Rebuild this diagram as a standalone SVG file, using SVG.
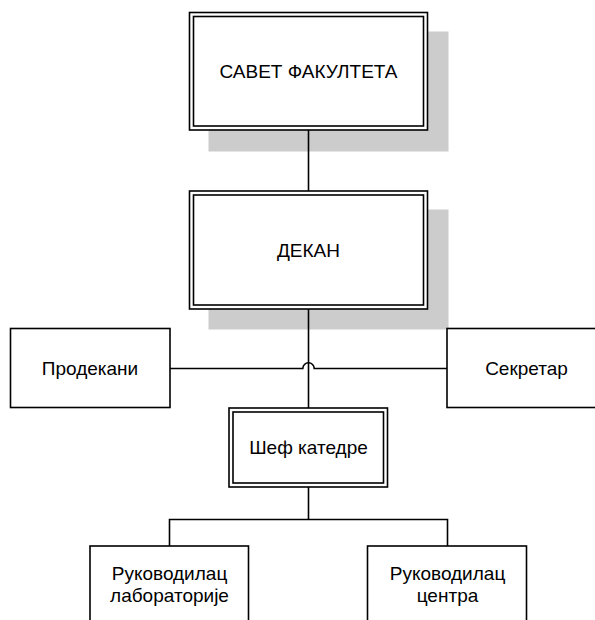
<svg xmlns="http://www.w3.org/2000/svg" width="595" height="620" viewBox="0 0 595 620">
<style>
.shadow{fill:#cccccc;stroke:none}
.box{fill:#ffffff;stroke:#000000;stroke-width:1.6}
.inner{fill:none;stroke:#000000;stroke-width:1.6}
.conn{fill:none;stroke:#000000;stroke-width:1.6}
text{font-family:"Liberation Sans",Arial,sans-serif;font-size:19px;fill:#000000;text-anchor:middle}
</style>
<rect width="595" height="620" fill="#ffffff"/>
<g id="shadows">
<rect class="shadow" x="208.5" y="31.5" width="240" height="120"/>
<rect class="shadow" x="208.5" y="209.5" width="240" height="120"/>
</g>
<g id="connectors">
<line class="conn" x1="308.5" y1="130" x2="308.5" y2="191"/>
<line class="conn" x1="308.5" y1="309" x2="308.5" y2="408"/>
<path class="conn" d="M170,368.5 H302.8 A5.6,5.6 0 0 1 314.2,368.5 H447"/>
<path class="conn" d="M308.5,487 V519.5 M169.5,546 V519.5 H447.5 V546"/>
</g>
<g id="savet">
<rect class="box" x="189.5" y="12.5" width="238" height="117.5"/>
<rect class="inner" x="193.5" y="16.5" width="230" height="109.5"/>
<text x="308.5" y="77.5">САВЕТ ФАКУЛТЕТА</text>
</g>
<g id="dekan">
<rect class="box" x="189.5" y="191" width="238" height="118"/>
<rect class="inner" x="193.5" y="195" width="230" height="110"/>
<text x="308.5" y="256.5">ДЕКАН</text>
</g>
<g id="prodekani">
<rect class="box" x="10.5" y="328.5" width="159.5" height="79"/>
<text x="90" y="375">Продекани</text>
</g>
<g id="sekretar">
<rect class="box" x="447" y="328.5" width="160" height="79"/>
<text x="526.5" y="375">Секретар</text>
</g>
<g id="sef">
<rect class="box" x="229" y="408" width="158.5" height="79"/>
<rect class="inner" x="233" y="412" width="150.5" height="71"/>
<text x="308.5" y="453.5">Шеф катедре</text>
</g>
<g id="rukovodilac-lab">
<rect class="box" x="90" y="546" width="158.5" height="90"/>
<text x="169.5" y="580">Руководилац</text>
<text x="169.5" y="601.5">лабораторије</text>
</g>
<g id="rukovodilac-centra">
<rect class="box" x="367.5" y="546" width="159" height="90"/>
<text x="447.5" y="580">Руководилац</text>
<text x="447.5" y="601.5">центра</text>
</g>
</svg>
